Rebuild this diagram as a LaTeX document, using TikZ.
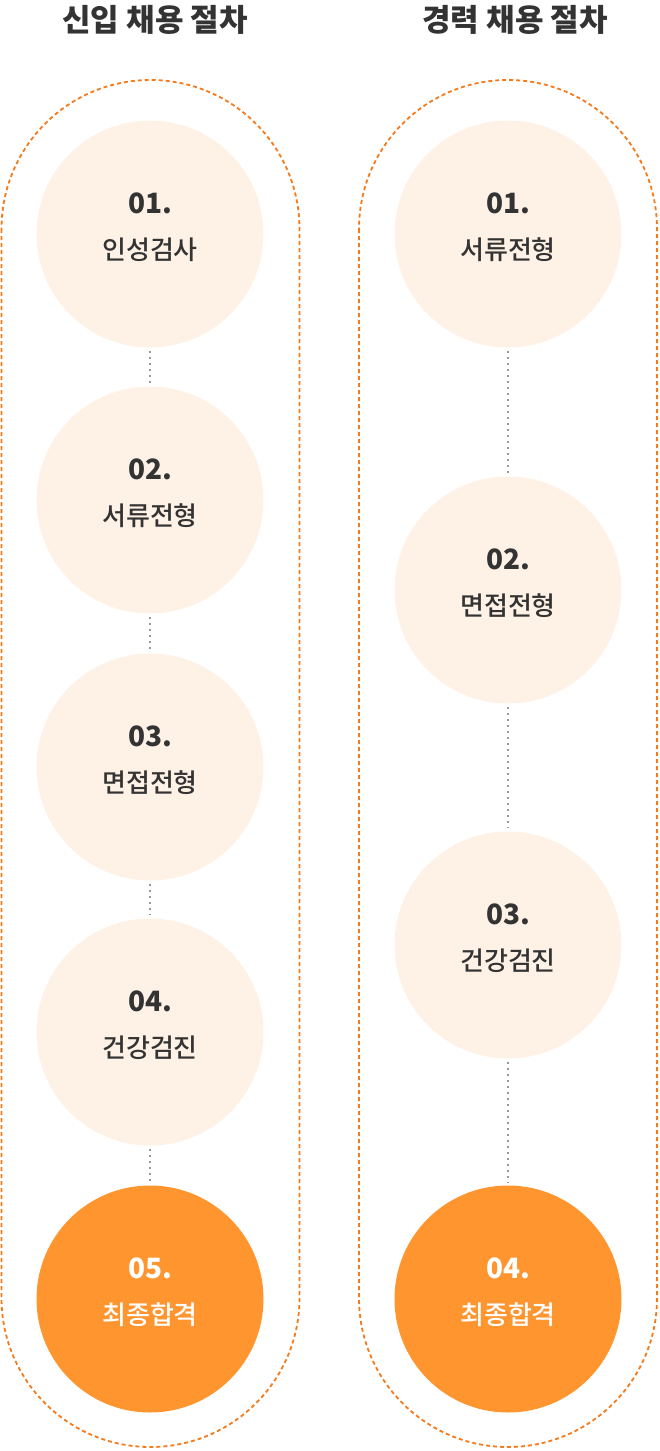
\documentclass[tikz,border=0pt]{standalone}
\usepackage{fontspec}
\setmainfont{Noto Sans CJK KR}
\newfontfamily\medfont{Noto Sans CJK KR Medium}
\usepackage{tikz}

\definecolor{pillorange}{HTML}{F57A1C}
\definecolor{stepfill}{HTML}{FEF1E6}
\definecolor{lastfill}{HTML}{FF952E}
\definecolor{textdark}{HTML}{333333}
\definecolor{dotgray}{HTML}{999999}

\begin{document}
\begin{tikzpicture}[x=1pt, y=-1pt,
  pill/.style={draw=pillorange, line width=1.8pt, dash pattern=on 4pt off 3pt, rounded corners=149pt},
  stepdot/.style={circle, fill=stepfill, minimum size=227pt, inner sep=0pt},
  lastdot/.style={stepdot, fill=lastfill},
  steptxt/.style={align=center, text=textdark, font=\medfont\fontsize{26}{46}\selectfont},
  lasttxt/.style={steptxt, text=white},
  dotline/.style={draw=dotgray, line width=2pt, dash pattern=on 2pt off 4pt, shorten <=3pt, shorten >=3pt},
  headtxt/.style={text=textdark, font=\fontsize{31}{34}\bfseries}]
\useasboundingbox (0,0) rectangle (659,1451);

% headings
\node[headtxt] (h1) at (155,20) {신입 채용 절차};
\node[headtxt] (h2) at (515,20) {경력 채용 절차};

% outlines
\draw[pill] (1.5,80) rectangle (299.5,1447);
\draw[pill] (359,80) rectangle (657,1447);

% new hires
\node[stepdot] (n1) at (150,234) {};
\node[stepdot] (n2) at (150,500) {};
\node[stepdot] (n3) at (150,767) {};
\node[stepdot] (n4) at (150,1032) {};
\node[lastdot] (n5) at (150,1299) {};
\node[steptxt] at ([yshift=7pt]n1) {{\fontsize{28}{46}\bfseries 01.}\\인성검사};
\node[steptxt] at ([yshift=7pt]n2) {{\fontsize{28}{46}\bfseries 02.}\\서류전형};
\node[steptxt] at ([yshift=7pt]n3) {{\fontsize{28}{46}\bfseries 03.}\\면접전형};
\node[steptxt] at ([yshift=7pt]n4) {{\fontsize{28}{46}\bfseries 04.}\\건강검진};
\node[lasttxt] at ([yshift=7pt]n5) {{\fontsize{28}{46}\bfseries 05.}\\최종합격};
\draw[dotline] (n1) -- (n2);
\draw[dotline] (n2) -- (n3);
\draw[dotline] (n3) -- (n4);
\draw[dotline] (n4) -- (n5);

% experienced hires
\node[stepdot] (c1) at (508,234) {};
\node[stepdot] (c2) at (508,590) {};
\node[stepdot] (c3) at (508,945) {};
\node[lastdot] (c4) at (508,1299) {};
\node[steptxt] at ([yshift=7pt]c1) {{\fontsize{28}{46}\bfseries 01.}\\서류전형};
\node[steptxt] at ([yshift=7pt]c2) {{\fontsize{28}{46}\bfseries 02.}\\면접전형};
\node[steptxt] at ([yshift=7pt]c3) {{\fontsize{28}{46}\bfseries 03.}\\건강검진};
\node[lasttxt] at ([yshift=7pt]c4) {{\fontsize{28}{46}\bfseries 04.}\\최종합격};
\draw[dotline] (c1) -- (c2);
\draw[dotline] (c2) -- (c3);
\draw[dotline] (c3) -- (c4);
\end{tikzpicture}
\end{document}
